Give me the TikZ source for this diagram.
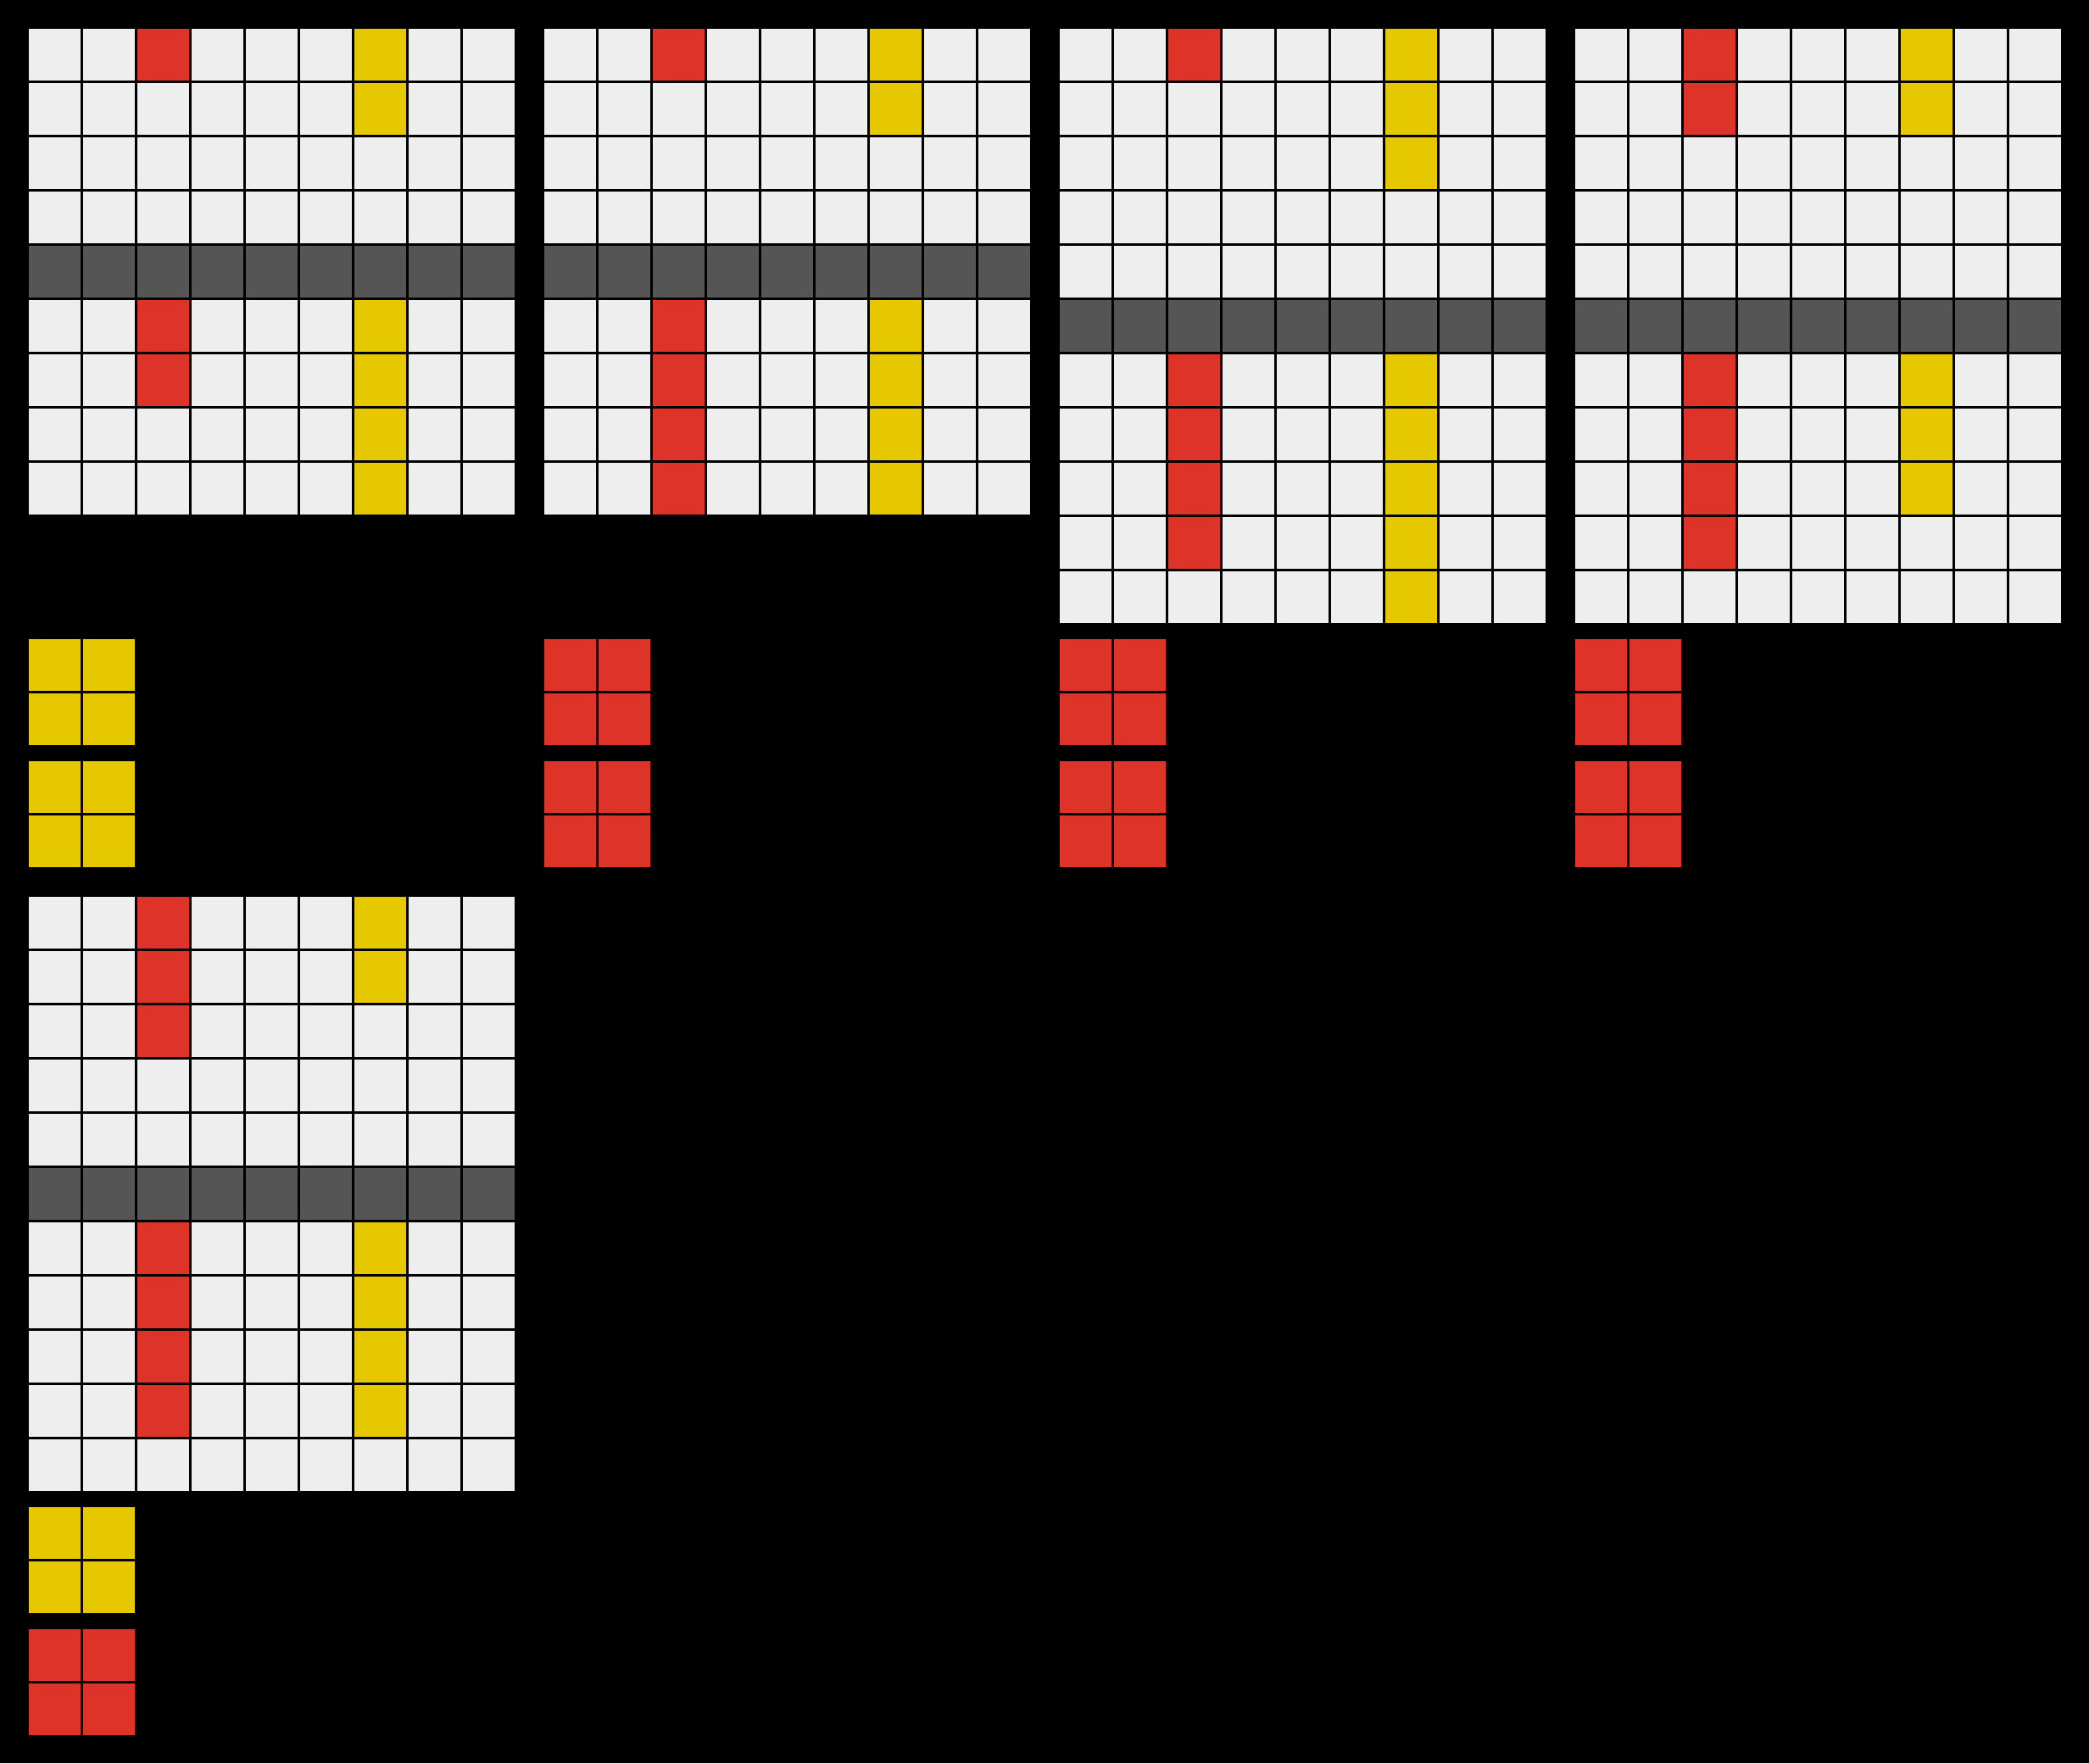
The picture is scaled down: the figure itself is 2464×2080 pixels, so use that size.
\documentclass[tikz,border=0pt]{standalone}
\definecolor{cellbg}{HTML}{EEEEEE}
\definecolor{myred}{HTML}{DE3328}
\definecolor{myyellow}{HTML}{E5C800}
\definecolor{dgray}{HTML}{555555}
\tikzset{gl/.style={black, line width=3pt}}
\newcommand\mycell[3]{\fill[#3] ({64*#1},{64*#2}) rectangle ++(64,64);}
\newcommand\grayrow[1]{\fill[dgray] (0,{64*#1}) rectangle (576,{64*#1+64});}
\newcommand\arcgrid[5]{\begin{scope}[shift={(#1,#2)}]
\fill[cellbg] (0,0) rectangle ({64*#3},{64*#4});
#5
\foreach \i in {0,...,#3} {\draw[gl] ({64*\i},0) -- ({64*\i},{64*#4});}
\foreach \j in {0,...,#4} {\draw[gl] (0,{64*\j}) -- ({64*#3},{64*\j});}
\end{scope}}
\newcommand\solid[3]{\arcgrid{#1}{#2}{2}{2}{\fill[#3] (0,0) rectangle (128,128);}}
\begin{document}
\begin{tikzpicture}[x=1pt,y=-1pt]
\fill[black] (0,0) rectangle (2464,2080);
\useasboundingbox (0,0) rectangle (2464,2080);
% example 1
\arcgrid{32}{32}{9}{9}{%
\mycell{2}{0}{myred}\mycell{6}{0}{myyellow}\mycell{6}{1}{myyellow}
\grayrow{4}
\foreach \r in {5,6}{\mycell{2}{\r}{myred}}
\foreach \r in {5,...,8}{\mycell{6}{\r}{myyellow}}}
\solid{32}{752}{myyellow}
\solid{32}{896}{myyellow}
% example 2
\arcgrid{640}{32}{9}{9}{%
\mycell{2}{0}{myred}\mycell{6}{0}{myyellow}\mycell{6}{1}{myyellow}
\grayrow{4}
\foreach \r in {5,...,8}{\mycell{2}{\r}{myred}\mycell{6}{\r}{myyellow}}}
\solid{640}{752}{myred}
\solid{640}{896}{myred}
% example 3
\arcgrid{1248}{32}{9}{11}{%
\mycell{2}{0}{myred}
\foreach \r in {0,1,2}{\mycell{6}{\r}{myyellow}}
\grayrow{5}
\foreach \r in {6,...,9}{\mycell{2}{\r}{myred}}
\foreach \r in {6,...,10}{\mycell{6}{\r}{myyellow}}}
\solid{1248}{752}{myred}
\solid{1248}{896}{myred}
% example 4
\arcgrid{1856}{32}{9}{11}{%
\foreach \r in {0,1}{\mycell{2}{\r}{myred}\mycell{6}{\r}{myyellow}}
\grayrow{5}
\foreach \r in {6,...,9}{\mycell{2}{\r}{myred}}
\foreach \r in {6,...,8}{\mycell{6}{\r}{myyellow}}}
\solid{1856}{752}{myred}
\solid{1856}{896}{myred}
% test
\arcgrid{32}{1056}{9}{11}{%
\foreach \r in {0,1,2}{\mycell{2}{\r}{myred}}
\foreach \r in {0,1}{\mycell{6}{\r}{myyellow}}
\grayrow{5}
\foreach \r in {6,...,9}{\mycell{2}{\r}{myred}\mycell{6}{\r}{myyellow}}}
\solid{32}{1776}{myyellow}
\solid{32}{1920}{myred}
\end{tikzpicture}
\end{document}
